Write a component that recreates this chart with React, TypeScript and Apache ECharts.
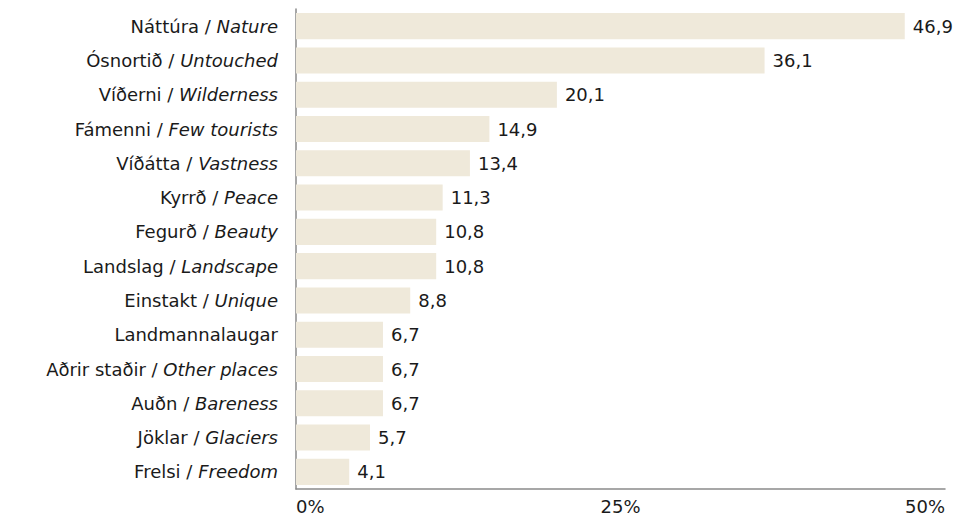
import React, { useEffect, useRef } from "react";
import * as echarts from "echarts";

const categoriesIs = [
  "Náttúra", "Ósnortið", "Víðerni", "Fámenni", "Víðátta", "Kyrrð", "Fegurð",
  "Landslag", "Einstakt", "Landmannalaugar", "Aðrir staðir", "Auðn", "Jöklar", "Frelsi",
];
const categoriesEn = [
  "Nature", "Untouched", "Wilderness", "Few tourists", "Vastness", "Peace", "Beauty",
  "Landscape", "Unique", "", "Other places", "Bareness", "Glaciers", "Freedom",
];
const values = [46.9, 36.1, 20.1, 14.9, 13.4, 11.3, 10.8, 10.8, 8.8, 6.7, 6.7, 6.7, 5.7, 4.1];
const tickValues = [0, 25, 50];

const FONT = "'DejaVu Sans', sans-serif";
const FS = 18;

export default function App() {
  const ref = useRef<HTMLDivElement>(null);
  useEffect(() => {
    document.body.style.margin = "0";
    if (!ref.current) return;
    const chart = echarts.init(ref.current, undefined, { renderer: "svg" });
    const cats = categoriesIs.map((c, i) => (categoriesEn[i] ? `${c}|${categoriesEn[i]}` : c));
    chart.setOption({
      animation: false,
      grid: { left: 296, right: 9, top: 9, bottom: 29, containLabel: false },
      xAxis: {
        type: "value",
        min: tickValues[0],
        max: tickValues[tickValues.length - 1],
        interval: 25,
        axisLine: { show: true, lineStyle: { color: "#8a8a8a", width: 1.5 } },
        axisTick: { show: false },
        splitLine: { show: false },
        axisLabel: {
          formatter: (v: number) => `${v}%`,
          color: "#1a1a1a",
          fontFamily: FONT,
          fontSize: FS,
          margin: 8,
          alignMinLabel: "left",
          alignMaxLabel: "right",
        },
      },
      yAxis: {
        type: "category",
        inverse: true,
        data: cats,
        axisLine: { show: true, lineStyle: { color: "#8a8a8a", width: 1.5 } },
        axisTick: { show: false },
        axisLabel: {
          margin: 18,
          color: "#1a1a1a",
          fontFamily: FONT,
          fontSize: FS,
          formatter: (v: string) => {
            const parts = v.split("|");
            if (parts.length === 1) return `{a|${parts[0]}}`;
            return `{a|${parts[0]} / }{b|${parts[1]}}`;
          },
          rich: {
            a: { fontFamily: FONT, fontSize: FS, color: "#1a1a1a" },
            b: { fontFamily: FONT, fontSize: FS, color: "#1a1a1a", fontStyle: "italic" },
          },
        },
      },
      series: [
        {
          type: "bar",
          data: values,
          barCategoryGap: "24%",
          itemStyle: { color: "#efe9da" },
          label: {
            show: true,
            position: "right",
            distance: 8,
            color: "#1a1a1a",
            fontFamily: FONT,
            fontSize: FS,
            formatter: (p: any) => String(p.value.toFixed(1)).replace(".", ","),
          },
        },
      ],
    });
    return () => chart.dispose();
  }, []);
  return <div ref={ref} style={{ width: 954, height: 518 }} />;
}
